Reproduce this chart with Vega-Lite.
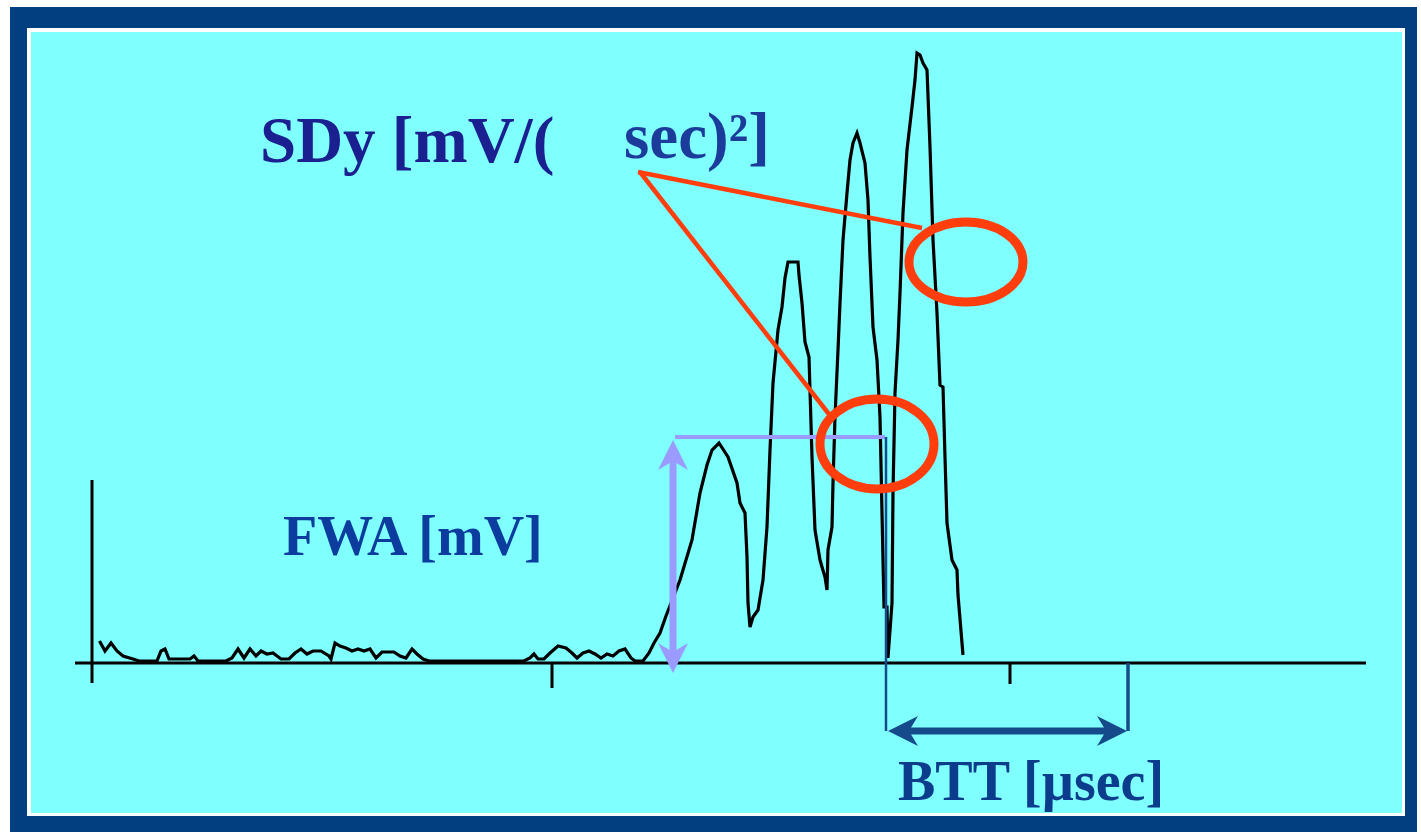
{
  "$schema": "https://vega.github.io/schema/vega-lite/v6.json",
  "width": 1421,
  "height": 832,
  "autosize": {"type": "fit", "contains": "padding"},
  "padding": 0,
  "background": "#ffffff",
  "config": {"view": {"stroke": null}},
  "datasets": {
    "frame": [
      {"part": "outer", "x1": -82, "x2": 1325, "y1": 656, "y2": -169},
      {"part": "white", "x1": -65, "x2": 1313, "y1": 635, "y2": -153},
      {"part": "cyan", "x1": -61, "x2": 1310, "y1": 631, "y2": -150}
    ],
    "axes": [
      {"x1": -17, "x2": 1274, "y1": 0, "y2": 0},
      {"x1": 0, "x2": 0, "y1": 183, "y2": -20},
      {"x1": 460, "x2": 460, "y1": 0, "y2": -25},
      {"x1": 918, "x2": 918, "y1": 0, "y2": -21}
    ],
    "wave": [
      {"t": 7.5, "v": 22}, {"t": 13, "v": 12}, {"t": 19, "v": 20}, {"t": 25, "v": 12}, {"t": 31, "v": 7},
      {"t": 41, "v": 4}, {"t": 47, "v": 2}, {"t": 65, "v": 2}, {"t": 69, "v": 12}, {"t": 73, "v": 14},
      {"t": 77, "v": 4}, {"t": 98, "v": 4}, {"t": 102, "v": 7}, {"t": 106, "v": 2}, {"t": 134, "v": 2},
      {"t": 140, "v": 5}, {"t": 146, "v": 14}, {"t": 152, "v": 5}, {"t": 158, "v": 14}, {"t": 164, "v": 7},
      {"t": 169, "v": 12}, {"t": 175, "v": 9}, {"t": 181, "v": 10}, {"t": 189, "v": 4}, {"t": 197, "v": 4},
      {"t": 203, "v": 10}, {"t": 209, "v": 14}, {"t": 215, "v": 9}, {"t": 221, "v": 12}, {"t": 229, "v": 12},
      {"t": 237, "v": 7}, {"t": 239, "v": 4}, {"t": 243, "v": 20}, {"t": 248, "v": 17}, {"t": 254, "v": 15},
      {"t": 260, "v": 12}, {"t": 266, "v": 14}, {"t": 272, "v": 12}, {"t": 278, "v": 14}, {"t": 284, "v": 5},
      {"t": 290, "v": 11}, {"t": 302, "v": 11}, {"t": 308, "v": 7}, {"t": 314, "v": 5}, {"t": 320, "v": 14},
      {"t": 325, "v": 9}, {"t": 331, "v": 4}, {"t": 337, "v": 2}, {"t": 353, "v": 2}, {"t": 410, "v": 2},
      {"t": 432, "v": 2}, {"t": 438, "v": 5}, {"t": 442, "v": 9}, {"t": 446, "v": 4}, {"t": 452, "v": 4},
      {"t": 458, "v": 10}, {"t": 466, "v": 17}, {"t": 474, "v": 15}, {"t": 480, "v": 10}, {"t": 485, "v": 5},
      {"t": 491, "v": 10}, {"t": 497, "v": 12}, {"t": 503, "v": 9}, {"t": 509, "v": 5}, {"t": 515, "v": 9},
      {"t": 521, "v": 7}, {"t": 527, "v": 12}, {"t": 533, "v": 14}, {"t": 539, "v": 5}, {"t": 543, "v": 2},
      {"t": 551, "v": 2}, {"t": 557, "v": 10}, {"t": 562, "v": 20}, {"t": 568, "v": 30}, {"t": 574, "v": 47},
      {"t": 588, "v": 83}, {"t": 600, "v": 123}, {"t": 608, "v": 170}, {"t": 615, "v": 198}, {"t": 620, "v": 213},
      {"t": 627, "v": 220}, {"t": 636, "v": 206}, {"t": 645, "v": 180}, {"t": 648, "v": 160}, {"t": 653, "v": 150},
      {"t": 655, "v": 106}, {"t": 656, "v": 60}, {"t": 658, "v": 36}, {"t": 661, "v": 46}, {"t": 666, "v": 53},
      {"t": 671, "v": 83}, {"t": 675, "v": 136}, {"t": 678, "v": 213}, {"t": 681, "v": 280}, {"t": 686, "v": 333},
      {"t": 690, "v": 356}, {"t": 693, "v": 385}, {"t": 696, "v": 401}, {"t": 706, "v": 401}, {"t": 707, "v": 388},
      {"t": 710, "v": 360}, {"t": 713, "v": 321}, {"t": 717, "v": 306}, {"t": 720, "v": 206}, {"t": 723, "v": 133},
      {"t": 728, "v": 103}, {"t": 730, "v": 96}, {"t": 733, "v": 86}, {"t": 735, "v": 73}, {"t": 736, "v": 113},
      {"t": 740, "v": 136}, {"t": 741, "v": 180}, {"t": 743, "v": 246}, {"t": 746, "v": 313}, {"t": 748, "v": 360},
      {"t": 751, "v": 423}, {"t": 755, "v": 470}, {"t": 758, "v": 503}, {"t": 761, "v": 520}, {"t": 765, "v": 530},
      {"t": 768, "v": 520}, {"t": 773, "v": 500}, {"t": 776, "v": 463}, {"t": 778, "v": 406}, {"t": 781, "v": 336},
      {"t": 785, "v": 303}, {"t": 788, "v": 246}, {"t": 790, "v": 150}, {"t": 792, "v": 56}, {"t": 795, "v": 56},
      {"t": 796, "v": 5}, {"t": 800, "v": 60}, {"t": 801, "v": 170}, {"t": 803, "v": 270}, {"t": 806, "v": 323},
      {"t": 808, "v": 370}, {"t": 811, "v": 450}, {"t": 815, "v": 513}, {"t": 820, "v": 556}, {"t": 823, "v": 583},
      {"t": 825, "v": 610}, {"t": 828, "v": 608}, {"t": 831, "v": 600}, {"t": 835, "v": 593}, {"t": 838, "v": 516},
      {"t": 841, "v": 423}, {"t": 845, "v": 350}, {"t": 848, "v": 278}, {"t": 851, "v": 276}, {"t": 853, "v": 206},
      {"t": 855, "v": 140}, {"t": 860, "v": 103}, {"t": 865, "v": 93}, {"t": 866, "v": 68}, {"t": 871, "v": 8}
    ],
    "heads": [
      {"dir": "up", "c": "lav", "x": 581, "y": 208},
      {"dir": "down", "c": "lav", "x": 581, "y": 5},
      {"dir": "left", "c": "blue", "x": 811, "y": -68},
      {"dir": "right", "c": "blue", "x": 1020, "y": -68}
    ],
    "ellipses": [
      {"e": "upper", "x": 874, "y": 401},
      {"e": "lower", "x": 785, "y": 219}
    ],
    "pointers": [
      {"x1": 546, "y1": 491, "x2": 830, "y2": 435},
      {"x1": 548, "y1": 491, "x2": 740, "y2": 245}
    ],
    "bigText": [
      {"label": "SDy [mV/(", "k": "a", "x": 168, "y": 501},
      {"label": "sec)²]", "k": "b", "x": 532, "y": 505}
    ],
    "midText": [
      {"label": "FWA [mV]", "k": "f", "x": 191, "y": 108},
      {"label": "BTT [µsec]", "k": "b", "x": 806, "y": -137}
    ]
  },
  "layer": [
    {
      "data": {"name": "frame"},
      "mark": {"type": "rect"},
      "encoding": {
        "x": {"field": "x1", "type": "quantitative", "scale": {"domain": [-92, 1329], "nice": false, "zero": false}, "axis": null},
        "x2": {"field": "x2"},
        "y": {"field": "y1", "type": "quantitative", "scale": {"domain": [-169, 663], "nice": false, "zero": false}, "axis": null},
        "y2": {"field": "y2"},
        "color": {"field": "part", "type": "nominal", "scale": {"domain": ["outer", "white", "cyan"], "range": ["#023f80", "#ffffff", "#80ffff"]}, "legend": null}
      }
    },
    {
      "data": {"name": "axes"},
      "mark": {"type": "rule", "color": "#000000", "strokeWidth": 3},
      "encoding": {
        "x": {"field": "x1", "type": "quantitative", "scale": {"domain": [-92, 1329], "nice": false, "zero": false}, "axis": null},
        "x2": {"field": "x2"},
        "y": {"field": "y1", "type": "quantitative", "scale": {"domain": [-169, 663], "nice": false, "zero": false}, "axis": null},
        "y2": {"field": "y2"}
      }
    },
    {
      "data": {"name": "wave"},
      "mark": {"type": "line", "color": "#000000", "strokeWidth": 3.2, "strokeJoin": "miter"},
      "encoding": {
        "x": {"field": "t", "type": "quantitative", "scale": {"domain": [-92, 1329], "nice": false, "zero": false}, "axis": null},
        "y": {"field": "v", "type": "quantitative", "scale": {"domain": [-169, 663], "nice": false, "zero": false}, "axis": null}
      }
    },
    {
      "data": {"values": [{"x1": 583, "x2": 793, "y1": 226, "y2": 226}]},
      "mark": {"type": "rule", "color": "#9a9aff", "strokeWidth": 4},
      "encoding": {
        "x": {"field": "x1", "type": "quantitative", "scale": {"domain": [-92, 1329], "nice": false, "zero": false}, "axis": null},
        "x2": {"field": "x2"},
        "y": {"field": "y1", "type": "quantitative", "scale": {"domain": [-169, 663], "nice": false, "zero": false}, "axis": null},
        "y2": {"field": "y2"}
      }
    },
    {
      "data": {"values": [{"x1": 581, "x2": 581, "y1": 205, "y2": 10}]},
      "mark": {"type": "rule", "color": "#9a9aff", "strokeWidth": 7},
      "encoding": {
        "x": {"field": "x1", "type": "quantitative", "scale": {"domain": [-92, 1329], "nice": false, "zero": false}, "axis": null},
        "x2": {"field": "x2"},
        "y": {"field": "y1", "type": "quantitative", "scale": {"domain": [-169, 663], "nice": false, "zero": false}, "axis": null},
        "y2": {"field": "y2"}
      }
    },
    {
      "data": {"values": [{"x1": 794, "x2": 794, "y1": 226, "y2": -68}]},
      "mark": {"type": "rule", "color": "#154b8b", "strokeWidth": 2.5},
      "encoding": {
        "x": {"field": "x1", "type": "quantitative", "scale": {"domain": [-92, 1329], "nice": false, "zero": false}, "axis": null},
        "x2": {"field": "x2"},
        "y": {"field": "y1", "type": "quantitative", "scale": {"domain": [-169, 663], "nice": false, "zero": false}, "axis": null},
        "y2": {"field": "y2"}
      }
    },
    {
      "data": {"values": [{"x1": 1036, "x2": 1036, "y1": 0, "y2": -68}]},
      "mark": {"type": "rule", "color": "#154b8b", "strokeWidth": 3.5},
      "encoding": {
        "x": {"field": "x1", "type": "quantitative", "scale": {"domain": [-92, 1329], "nice": false, "zero": false}, "axis": null},
        "x2": {"field": "x2"},
        "y": {"field": "y1", "type": "quantitative", "scale": {"domain": [-169, 663], "nice": false, "zero": false}, "axis": null},
        "y2": {"field": "y2"}
      }
    },
    {
      "data": {"values": [{"x1": 812, "x2": 1018, "y1": -68, "y2": -68}]},
      "mark": {"type": "rule", "color": "#154b8b", "strokeWidth": 7},
      "encoding": {
        "x": {"field": "x1", "type": "quantitative", "scale": {"domain": [-92, 1329], "nice": false, "zero": false}, "axis": null},
        "x2": {"field": "x2"},
        "y": {"field": "y1", "type": "quantitative", "scale": {"domain": [-169, 663], "nice": false, "zero": false}, "axis": null},
        "y2": {"field": "y2"}
      }
    },
    {
      "data": {"name": "heads"},
      "mark": {"type": "point", "filled": true, "size": 900, "opacity": 1},
      "encoding": {
        "x": {"field": "x", "type": "quantitative", "scale": {"domain": [-92, 1329], "nice": false, "zero": false}, "axis": null},
        "y": {"field": "y", "type": "quantitative", "scale": {"domain": [-169, 663], "nice": false, "zero": false}, "axis": null},
        "shape": {"field": "dir", "type": "nominal", "scale": {"domain": ["up", "down", "left", "right"], "range": ["M0,-1L1,1L0,0.4L-1,1Z", "M0,1L1,-1L0,-0.4L-1,-1Z", "M-1,0L1,-1L0.4,0L1,1Z", "M1,0L-1,-1L-0.4,0L-1,1Z"]}, "legend": null},
        "color": {"field": "c", "type": "nominal", "scale": {"domain": ["lav", "blue"], "range": ["#9a9aff", "#154b8b"]}, "legend": null}
      }
    },
    {
      "data": {"name": "pointers"},
      "mark": {"type": "rule", "color": "#ff3d0d", "strokeWidth": 4.5},
      "encoding": {
        "x": {"field": "x1", "type": "quantitative", "scale": {"domain": [-92, 1329], "nice": false, "zero": false}, "axis": null},
        "x2": {"field": "x2"},
        "y": {"field": "y1", "type": "quantitative", "scale": {"domain": [-169, 663], "nice": false, "zero": false}, "axis": null},
        "y2": {"field": "y2"}
      }
    },
    {
      "data": {"name": "ellipses"},
      "mark": {"type": "point", "filled": false, "size": 12996, "strokeWidth": 9, "color": "#ff3d0d", "opacity": 1},
      "encoding": {
        "x": {"field": "x", "type": "quantitative", "scale": {"domain": [-92, 1329], "nice": false, "zero": false}, "axis": null},
        "y": {"field": "y", "type": "quantitative", "scale": {"domain": [-169, 663], "nice": false, "zero": false}, "axis": null},
        "shape": {"field": "e", "type": "nominal", "scale": {"domain": ["upper", "lower"], "range": ["M1,0C1,0.388 0.552,0.702 0,0.702C-0.552,0.702 -1,0.388 -1,0C-1,-0.388 -0.552,-0.702 0,-0.702C0.552,-0.702 1,-0.388 1,0Z", "M1,0C1,0.436 0.552,0.789 0,0.789C-0.552,0.789 -1,0.436 -1,0C-1,-0.436 -0.552,-0.789 0,-0.789C0.552,-0.789 1,-0.436 1,0Z"]}, "legend": null}
      }
    },
    {
      "data": {"name": "bigText"},
      "mark": {"type": "text", "font": "Liberation Serif", "fontWeight": "bold", "fontSize": 65, "align": "left", "baseline": "alphabetic"},
      "encoding": {
        "x": {"field": "x", "type": "quantitative", "scale": {"domain": [-92, 1329], "nice": false, "zero": false}, "axis": null},
        "y": {"field": "y", "type": "quantitative", "scale": {"domain": [-169, 663], "nice": false, "zero": false}, "axis": null},
        "text": {"field": "label"},
        "color": {"field": "k", "type": "nominal", "scale": {"domain": ["a", "b"], "range": ["#1a2090", "#1c3c9c"]}, "legend": null}
      }
    },
    {
      "data": {"name": "midText"},
      "mark": {"type": "text", "font": "Liberation Serif", "fontWeight": "bold", "fontSize": 56, "align": "left", "baseline": "alphabetic"},
      "encoding": {
        "x": {"field": "x", "type": "quantitative", "scale": {"domain": [-92, 1329], "nice": false, "zero": false}, "axis": null},
        "y": {"field": "y", "type": "quantitative", "scale": {"domain": [-169, 663], "nice": false, "zero": false}, "axis": null},
        "text": {"field": "label"},
        "color": {"field": "k", "type": "nominal", "scale": {"domain": ["f", "b"], "range": ["#0b3c9e", "#0c3d8d"]}, "legend": null}
      }
    }
  ],
  "resolve": {"scale": {"color": "independent", "shape": "independent"}}
}
